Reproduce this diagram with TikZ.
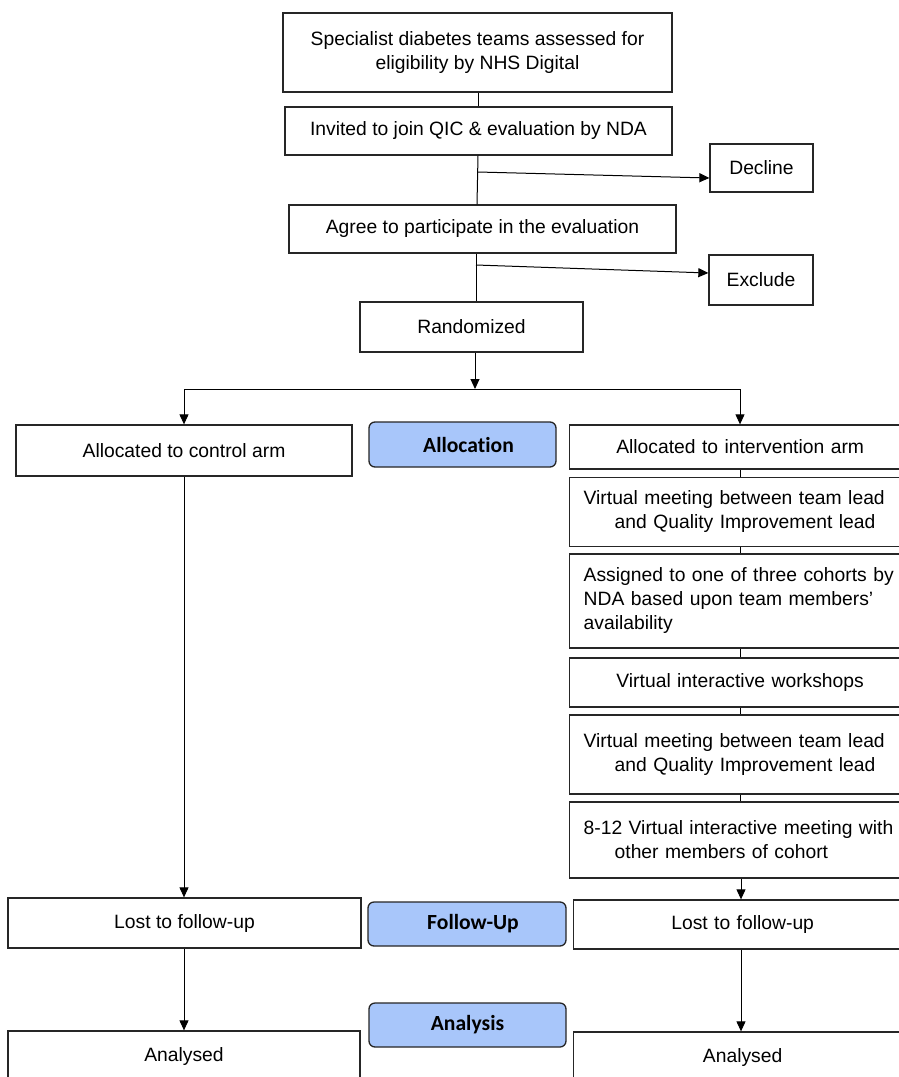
\documentclass[tikz,border=0pt]{standalone}
\usepackage{fontspec}
\setmainfont{Liberation Sans}
\newfontfamily\phasefont[Ligatures=NoCommon]{Carlito}
\usetikzlibrary{arrows.meta}
\definecolor{phaseblue}{HTML}{A8C6FA}
\tikzset{
  box/.style={draw=black!85, line width=1.3pt, rectangle, inner sep=0pt,
    font=\fontsize{19.3}{24}\selectfont, align=center},
  rightbox/.style={box, anchor=west, text width=313pt, inner xsep=14pt, align=left},
  phase/.style={draw=black!85, line width=1.3pt, rounded corners=6pt, fill=phaseblue,
    minimum width=187pt, minimum height=45pt, font=\phasefont\bfseries\fontsize{21.6}{24}\selectfont},
  link/.style={line width=1pt, black},
  arrow/.style={link, -{Triangle[length=10pt,width=9pt]}}
}
\begin{document}
\begin{tikzpicture}[x=1pt, y=-1pt]
    \clip (0,0) rectangle (899,1077);
    \fill[white] (0,0) rectangle (899,1077);

    % Enrolment
    \node[box, minimum width=389pt, minimum height=79pt] (assess) at (477.5,52.5)
        {Specialist diabetes teams assessed for\\eligibility by NHS Digital};
    \node[box, minimum width=387pt, minimum height=48pt] (invite) at (478.5,131)
        {Invited to join QIC \& evaluation by NDA};
    \node[box, minimum width=103pt, minimum height=48pt] (decline) at (761.5,168) {Decline};
    \node[box, minimum width=387pt, minimum height=48pt] (agree) at (482.5,229)
        {Agree to participate in the evaluation};
    \node[box, minimum width=104pt, minimum height=50pt] (exclude) at (761,280) {Exclude};
    \node[box, minimum width=223pt, minimum height=50pt] (random) at (471.5,327) {Randomized};

    \draw[link] (assess.south -| 478,0) -- (invite.north -| 478,0);
    \draw[link] (invite.south -| 478,0) -- (agree.north -| 477,0);
    \draw[link] (agree.south -| 476,0) -- (random.north -| 476,0);
    \coordinate (toDecline) at (478,172);
    \coordinate (toExclude) at (476,265);
    \draw[arrow] (toDecline) -- ([yshift=-10pt]decline.west);
    \draw[arrow] (toExclude) -- ([yshift=7pt]exclude.west);

    % Allocation
    \coordinate (split) at (475,389);
    \draw[arrow] (random.south -| split) -- (split);
    \node[box, minimum width=336pt, minimum height=51pt] (control) at (184,450.5)
        {Allocated to control arm};
    \node[phase] (alloc) at (462.5,444.5) {\hspace*{12pt}Allocation};
    \node[rightbox, minimum height=44pt, align=center] (interv) at (569,447)
        {Allocated to intervention arm};
    \draw[link] (184,389) -- (740,389);
    \draw[arrow] (184,389) -- (control.north);
    \draw[arrow] (740,389) -- (interv.north -| 740,0);

    % Intervention arm
    \node[rightbox, minimum height=69pt] (meetA) at (569,512)
        {Virtual meeting between team lead\\\hspace*{31pt}and Quality Improvement lead};
    \node[rightbox, minimum height=94pt] (cohorts) at (569,601)
        {Assigned to one of three cohorts by\\NDA based upon team members'\\availability};
    \node[rightbox, minimum height=49pt, align=center] (workshop) at (569,682.5)
        {Virtual interactive workshops};
    \node[rightbox, minimum height=79pt] (meetB) at (569,754.5)
        {Virtual meeting between team lead\\\hspace*{31pt}and Quality Improvement lead};
    \node[rightbox, minimum height=76pt] (peers) at (569,840)
        {8-12 Virtual interactive meeting with\\\hspace*{31pt}other members of cohort};
    \foreach \a/\b in {interv/meetA, meetA/cohorts, cohorts/workshop, workshop/meetB, meetB/peers}
        \draw[link] (\a.south -| 740,0) -- (\b.north -| 740,0);

    % Follow-up
    \node[box, minimum width=353pt, minimum height=50pt] (lostC) at (184.5,923) {Lost to follow-up};
    \node[phase, minimum width=198pt, minimum height=44pt] (follow) at (467,924) {\hspace*{12pt}Follow-Up};
    \node[rightbox, minimum height=49pt, text width=310pt, align=center] (lostI) at (573,924.5)
        {Lost to follow-up};
    \draw[arrow] (control.south) -- (lostC.north -| control.south);
    \draw[arrow] (peers.south -| 741,0) -- (lostI.north -| 741,0);

    % Analysis
    \node[phase, minimum width=197pt, minimum height=44pt] (analysis) at (467.5,1025) {Analysis};
    \node[box, minimum width=352pt, minimum height=50pt] (anaC) at (184,1056) {Analysed};
    \node[rightbox, minimum height=50pt, text width=310pt, align=center] (anaI) at (573,1057)
        {Analysed};
    \draw[arrow] (lostC.south -| 184,0) -- (anaC.north -| 184,0);
    \draw[arrow] (lostI.south -| 741,0) -- (anaI.north -| 741,0);
\end{tikzpicture}
\end{document}
